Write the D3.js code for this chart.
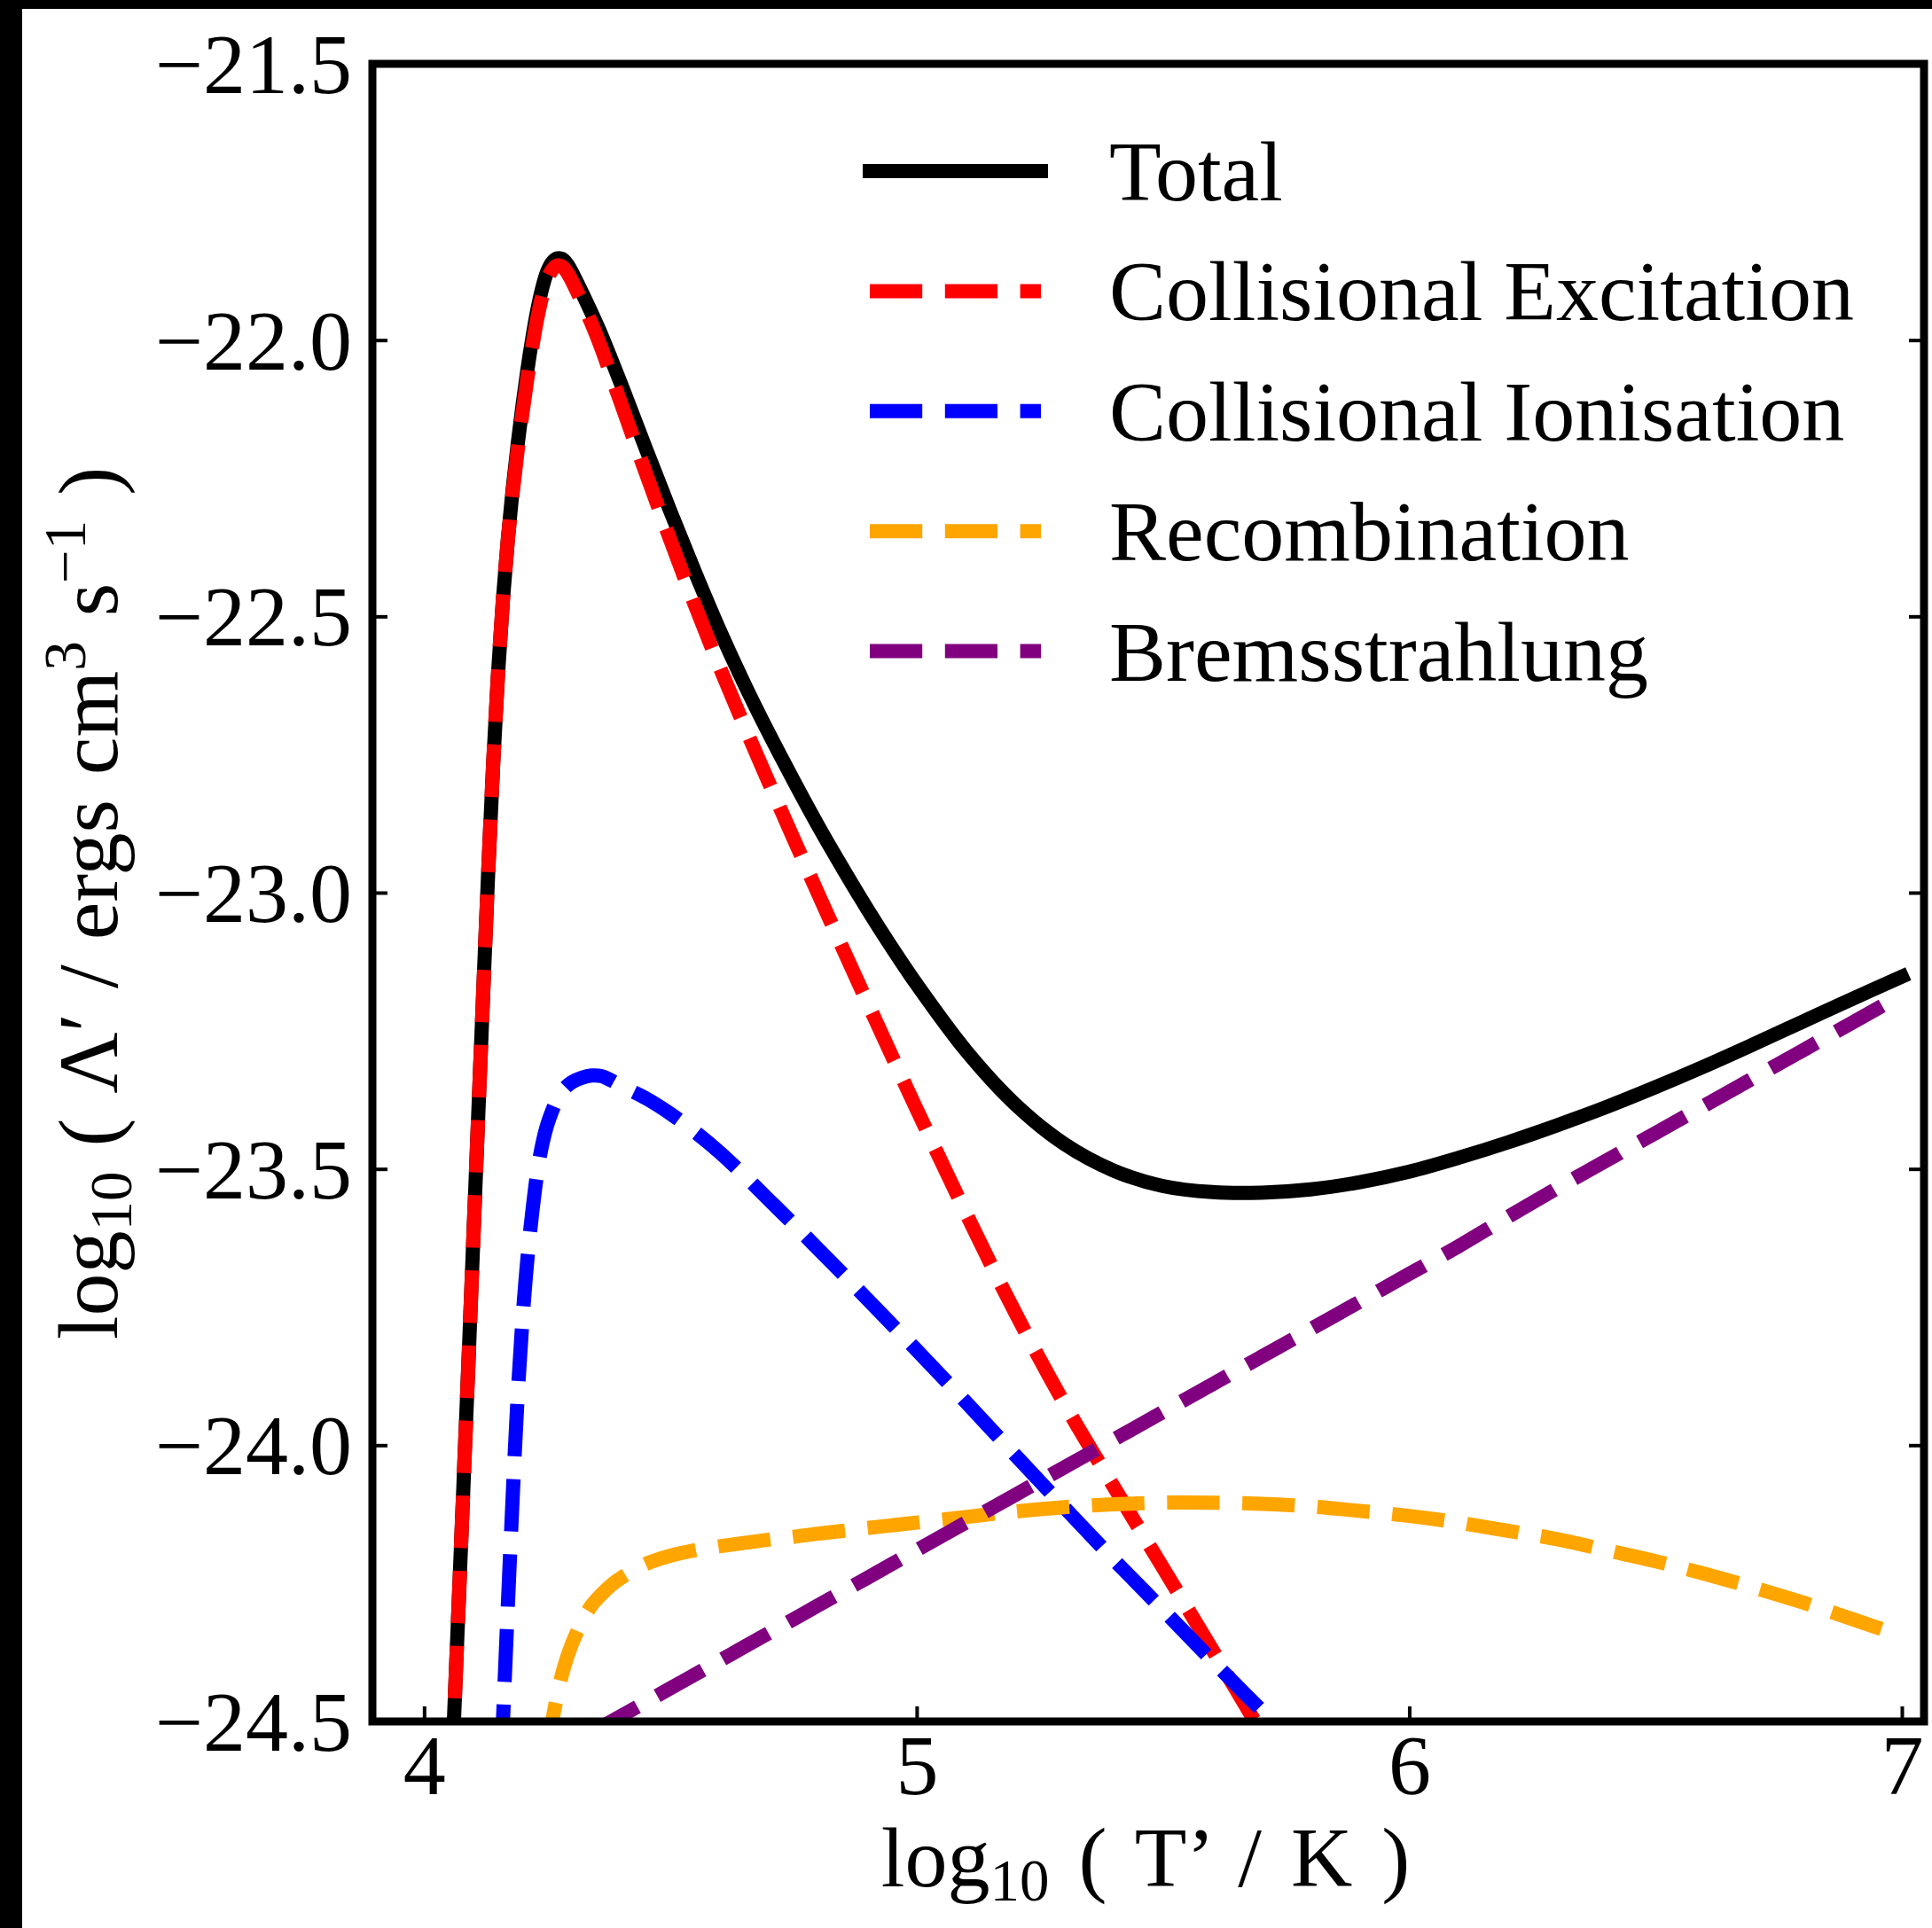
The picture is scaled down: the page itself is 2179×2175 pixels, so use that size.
<!DOCTYPE html>
<html><head><meta charset="utf-8">
<script src="https://cdn.jsdelivr.net/npm/d3@7"></script>
<style>
body{margin:0;background:#fff;}
svg{display:block;}
text{font-family:"Liberation Serif","Times New Roman",serif;fill:#000;}
</style>
</head><body>
<script>
// ---- data ----
const logT = [
  4.05, 4.06, 4.07, 4.08, 4.09, 4.10, 4.11, 4.12, 4.13, 4.14,
  4.15, 4.16, 4.17, 4.18, 4.19, 4.20, 4.21, 4.22, 4.23, 4.24,
  4.25, 4.26, 4.27, 4.28, 4.29, 4.30, 4.32, 4.34, 4.36, 4.38,
  4.40, 4.45, 4.50, 4.55, 4.60, 4.65, 4.70, 4.75, 4.80, 4.85,
  4.90, 4.95, 5.00, 5.10, 5.20, 5.30, 5.40, 5.50, 5.60, 5.70,
  5.80, 5.90, 6.00, 6.10, 6.20, 6.30, 6.40, 6.50, 6.60, 6.70,
  6.80, 6.90, 7.00
];
const total = [
  -24.73, -24.51, -24.29, -24.07, -23.85, -23.625, -23.40, -23.18, -22.965, -22.77,
  -22.605, -22.47, -22.36, -22.268, -22.188, -22.117, -22.052, -21.995, -21.945, -21.905,
  -21.876, -21.859, -21.852, -21.853, -21.862, -21.877, -21.913, -21.951, -21.991, -22.035,
  -22.08, -22.196, -22.31, -22.42, -22.525, -22.622, -22.712, -22.797, -22.879, -22.956,
  -23.03, -23.10, -23.166, -23.286, -23.383, -23.455, -23.503, -23.531, -23.542, -23.543,
  -23.537, -23.524, -23.505, -23.48, -23.452, -23.421, -23.388, -23.352, -23.314, -23.274,
  -23.233, -23.192, -23.152
];
const collExcitation = [
  -24.73, -24.51, -24.29, -24.07, -23.85, -23.625, -23.40, -23.18, -22.965, -22.77,
  -22.605, -22.47, -22.362, -22.275, -22.198, -22.13, -22.067, -22.01, -21.96, -21.92,
  -21.89, -21.873, -21.865, -21.867, -21.877, -21.893, -21.93, -21.97, -22.015, -22.065,
  -22.115, -22.24, -22.362, -22.48, -22.592, -22.698, -22.801, -22.902, -23.002, -23.101,
  -23.199, -23.296, -23.392, -23.58, -23.76, -23.925, -24.075, -24.222, -24.37, -24.52,
  -24.67, null, null, null, null, null, null, null, null, null,
  null, null, null
];
const collIonisation = [
  null, null, null, null, null, null, null, null, null, null,
  -24.70, -24.50, -24.29, -24.09, -23.91, -23.77, -23.66, -23.575, -23.505, -23.455,
  -23.42, -23.395, -23.375, -23.36, -23.35, -23.343, -23.335, -23.331, -23.332, -23.34,
  -23.35, -23.372, -23.40, -23.433, -23.47, -23.512, -23.556, -23.60, -23.645, -23.69,
  -23.736, -23.782, -23.828, -23.922, -24.018, -24.113, -24.207, -24.298, -24.39, -24.48,
  -24.57, null, null, null, null, null, null, null, null, null,
  null, null, null
];
const recombination = [
  null, null, null, null, null, null, null, null, null, null,
  null, null, null, null, null, null, null, null, null, null,
  -24.56, -24.50, -24.455, -24.415, -24.385, -24.36, -24.32, -24.29, -24.27, -24.253,
  -24.24, -24.215, -24.20, -24.19, -24.183, -24.177, -24.171, -24.166, -24.16, -24.155,
  -24.15, -24.145, -24.14, -24.13, -24.12, -24.112, -24.107, -24.104, -24.104, -24.106,
  -24.111, -24.119, -24.128, -24.14, -24.155, -24.17, -24.19, -24.21, -24.233, -24.258,
  -24.285, -24.315, -24.345
];
const bremsstrahlung = [
  null, null, null, null, null, null, null, null, null, null,
  null, null, null, null, null, null, null, null, null, null,
  null, null, null, null, null, null, null, -24.52, -24.51, -24.50,
  -24.49, -24.465, -24.44, -24.415, -24.39, -24.365, -24.34, -24.315, -24.29, -24.265,
  -24.24, -24.215, -24.19, -24.14, -24.09, -24.04, -23.99, -23.94, -23.89, -23.84,
  -23.79, -23.74, -23.69, -23.64, -23.587, -23.535, -23.485, -23.435, -23.385, -23.335,
  -23.285, -23.235, -23.185
];
const seriesNames = ["Total", "Collisional Excitation", "Collisional Ionisation", "Recombination", "Bremsstrahlung"];
const xTicks = [4, 5, 6, 7];
const yTicks = [-24.5, -24.0, -23.5, -23.0, -22.5, -22.0, -21.5];
const xDomain = [3.895, 7.045];
const yDomain = [-24.5, -21.5];

// ---- drawing ----
const W = 2179, H = 2175;
const M = {left: 420, top: 72, right: 2170, bottom: 1942};
const FONT = '"Liberation Serif","Times New Roman",serif';
const svg = d3.select("body").append("svg").attr("width", W).attr("height", H);
svg.append("rect").attr("width", W).attr("height", H).attr("fill", "#fff");

const x = d3.scaleLinear().domain(xDomain).range([M.left, M.right]);
const y = d3.scaleLinear().domain(yDomain).range([M.bottom, M.top]);

svg.append("defs").append("clipPath").attr("id", "plotclip")
  .append("rect").attr("x", M.left).attr("y", M.top)
  .attr("width", M.right - M.left).attr("height", M.bottom - M.top);

const LW = 16;
const DASH = `${3.7 * LW} ${1.6 * LW}`;
const series = [
  {name: seriesNames[0], values: total, color: "#000000", dash: null},
  {name: seriesNames[1], values: collExcitation, color: "#ff0000", dash: DASH},
  {name: seriesNames[2], values: collIonisation, color: "#0000ff", dash: DASH},
  {name: seriesNames[3], values: recombination, color: "#ffa500", dash: DASH},
  {name: seriesNames[4], values: bremsstrahlung, color: "#800080", dash: DASH}
];

const line = d3.line()
  .defined(d => d[1] !== null)
  .x(d => x(d[0])).y(d => y(d[1]))
  .curve(d3.curveCatmullRom.alpha(0.5));

const gLines = svg.append("g").attr("clip-path", "url(#plotclip)");
series.forEach(s => {
  const pts = logT.map((t, i) => [t, s.values[i]]);
  gLines.append("path")
    .attr("d", line(pts))
    .attr("fill", "none")
    .attr("stroke", s.color)
    .attr("stroke-width", LW)
    .attr("stroke-linejoin", "round")
    .attr("stroke-linecap", s.dash ? "butt" : "square")
    .attr("stroke-dasharray", s.dash);
});

// axes (inward ticks)
const gx = svg.append("g").attr("transform", `translate(0,${M.bottom})`)
  .call(d3.axisBottom(x).tickValues(xTicks).tickSizeInner(-17).tickSizeOuter(0).tickFormat(d3.format("d")));
const gy = svg.append("g").attr("transform", `translate(${M.left},0)`)
  .call(d3.axisLeft(y).tickValues(yTicks).tickSizeInner(-17).tickSizeOuter(0).tickFormat(d3.format(".1f")));
const gr = svg.append("g").attr("transform", `translate(${M.right},0)`)
  .call(d3.axisRight(y).tickValues(yTicks).tickSizeInner(-17).tickSizeOuter(0).tickFormat(""));
[gx, gy, gr].forEach(g => {
  g.select(".domain").remove();
  g.selectAll(".tick line").attr("stroke", "#000").attr("stroke-width", 4);
});
gx.selectAll(".tick text").attr("y", 82).attr("dy", null)
  .attr("font-size", 96).attr("font-family", FONT).attr("fill", "#000");
gy.selectAll(".tick text").attr("x", -23).attr("dy", "0.34em")
  .attr("font-size", 96).attr("font-family", FONT).attr("fill", "#000");

// frame
svg.append("rect").attr("x", M.left).attr("y", M.top)
  .attr("width", M.right - M.left).attr("height", M.bottom - M.top)
  .attr("fill", "none").attr("stroke", "#000").attr("stroke-width", 9);

// legend
const leg = svg.append("g");
series.forEach((s, i) => {
  const ry = 193 + i * 135.4;
  leg.append("line").attr("x1", 981).attr("x2", 1174).attr("y1", ry).attr("y2", ry)
    .attr("stroke", s.color).attr("stroke-width", LW)
    .attr("stroke-linecap", s.dash ? "butt" : "square")
    .attr("stroke-dasharray", s.dash);
  leg.append("text").attr("x", 1251).attr("y", ry + 33)
    .attr("font-size", 96).text(s.name);
});

// axis titles
const xt = svg.append("text").attr("x", 1292).attr("y", 2128)
  .attr("text-anchor", "middle").attr("font-size", 96).attr("word-spacing", 9);
xt.append("tspan").text("log");
xt.append("tspan").attr("font-size", 67).attr("dy", 16).text("10");
xt.append("tspan").attr("dy", -16).text(" ( T’ / K )");

const yt = svg.append("text").attr("transform", "translate(132,1019) rotate(-90)")
  .attr("text-anchor", "middle").attr("font-size", 96).attr("word-spacing", 4);
yt.append("tspan").text("log");
yt.append("tspan").attr("font-size", 67).attr("dy", 16).text("10");
yt.append("tspan").attr("dy", -16).text(" ( Λ′ / ergs cm");
yt.append("tspan").attr("font-size", 67).attr("dy", -36).text("3");
yt.append("tspan").attr("dy", 36).text(" s");
yt.append("tspan").attr("font-size", 67).attr("dy", -36).text("−1");
yt.append("tspan").attr("dy", 36).text(" )");

// black edge strips of the original screenshot
svg.append("rect").attr("x", 0).attr("y", 0).attr("width", W).attr("height", 10).attr("fill", "#000");
svg.append("rect").attr("x", 0).attr("y", 0).attr("width", 25).attr("height", H).attr("fill", "#000");
</script>
</body></html>
